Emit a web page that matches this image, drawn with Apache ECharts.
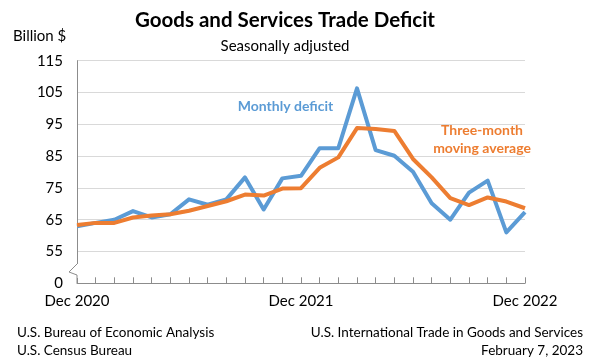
<!DOCTYPE html>
<html>
<head>
<meta charset="utf-8">
<script src="https://cdn.jsdelivr.net/npm/echarts@6/dist/echarts.min.js"></script>
<style>
html,body{margin:0;padding:0;background:#fff;}
#chart{width:601px;height:363px;}
</style>
</head>
<body>
<div id="chart"></div>
<script>
const months = ['Dec 2020','Jan 2021','Feb 2021','Mar 2021','Apr 2021','May 2021','Jun 2021','Jul 2021','Aug 2021','Sep 2021','Oct 2021','Nov 2021','Dec 2021','Jan 2022','Feb 2022','Mar 2022','Apr 2022','May 2022','Jun 2022','Jul 2022','Aug 2022','Sep 2022','Oct 2022','Nov 2022','Dec 2022'];
const monthlyDeficit = [62.9,64.0,65.0,67.7,65.7,66.7,71.4,69.7,71.4,78.3,68.2,78.0,78.8,87.5,87.5,106.3,86.9,85.1,80.1,70.2,65.0,73.5,77.3,61.0,67.4];
const movingAverage = [63.3,64.0,64.0,65.7,66.3,66.7,67.8,69.3,70.8,72.9,72.6,74.8,74.9,81.3,84.6,93.8,93.5,92.9,84.1,78.3,71.8,69.6,72.0,70.7,68.6];
const yTickValues = [45,55,65,75,85,95,105,115];
const yTickLabels = ['0','55','65','75','85','95','105','115'];
const FONT = 'Lato';

const chart = echarts.init(document.getElementById('chart'), null, {renderer:'canvas'});
const option = {
  animation:false,
  backgroundColor:'#fff',
  title:[
    {text:'Goods and Services Trade Deficit', left:280, top:5, textAlign:'center',
     textStyle:{fontFamily:FONT, fontWeight:'bold', fontSize:20.5, color:'#000'}},
    {text:'Seasonally adjusted', left:280, top:34, textAlign:'center',
     textStyle:{fontFamily:FONT, fontWeight:'normal', fontSize:15, color:'#000'}},
    {text:'Billion $', left:8, top:24,
     textStyle:{fontFamily:FONT, fontWeight:'normal', fontSize:15, color:'#000'}}
  ],
  grid:{left:77, right:76, top:60.7, bottom:79.7, containLabel:false},
  xAxis:{
    type:'category', data:months, boundaryGap:false,
    axisLine:{lineStyle:{color:'#8c8c8c', width:1}},
    axisTick:{show:true, inside:true, length:6, interval:0, lineStyle:{color:'#8c8c8c'}},
    axisLabel:{interval:11, margin:10, fontFamily:FONT, fontSize:15, color:'#000'},
    splitLine:{show:false}
  },
  yAxis:{
    type:'value', min:45, max:115, interval:10,
    axisLine:{show:true, lineStyle:{color:'#8c8c8c', width:1}},
    axisTick:{show:false},
    axisLabel:{margin:14, fontFamily:FONT, fontSize:15, color:'#000',
      formatter:function(v){const i=yTickValues.indexOf(v);return i>=0?yTickLabels[i]:'';}},
    splitLine:{show:true, lineStyle:{color:'#d9d9d9', width:1}}
  },
  series:[
    {name:'Monthly deficit', type:'line', data:monthlyDeficit, symbol:'none',
     lineStyle:{color:'#5B9BD5', width:4, join:'round'}, z:2},
    {name:'Three-month moving average', type:'line', data:movingAverage, symbol:'none',
     lineStyle:{color:'#ED7D31', width:4, join:'round'}, z:3}
  ],
  graphic:[
    {type:'rect', shape:{x:72, y:264, width:10, height:14}, style:{fill:'#fff'}, z:100},
    {type:'polyline', shape:{points:[[77,264],[69,272],[77,275],[77,283]]}, style:{stroke:'#8c8c8c', lineWidth:1, fill:null}, z:101},
    {type:'text', style:{text:'Monthly deficit', x:285.5, y:106, fill:'#5B9BD5', font:'bold 14px '+FONT, textAlign:'center', textVerticalAlign:'middle'}, z:50},
    {type:'text', style:{text:'Three-month', x:482, y:130, fill:'#ED7D31', font:'bold 14px '+FONT, textAlign:'center', textVerticalAlign:'middle'}, z:50},
    {type:'text', style:{text:'moving average', x:482, y:148, fill:'#ED7D31', font:'bold 14px '+FONT, textAlign:'center', textVerticalAlign:'middle'}, z:50},
    {type:'text', style:{text:'U.S. Bureau of Economic Analysis', x:17, y:333, fill:'#000', font:'13.5px '+FONT, textAlign:'left', textVerticalAlign:'middle'}},
    {type:'text', style:{text:'U.S. Census Bureau', x:17, y:351, fill:'#000', font:'13.5px '+FONT, textAlign:'left', textVerticalAlign:'middle'}},
    {type:'text', style:{text:'U.S. International Trade in Goods and Services', x:583, y:333, fill:'#000', font:'13.5px '+FONT, textAlign:'right', textVerticalAlign:'middle'}},
    {type:'text', style:{text:'February 7, 2023', x:583, y:351, fill:'#000', font:'13.5px '+FONT, textAlign:'right', textVerticalAlign:'middle'}}
  ]
};
chart.setOption(option);
</script>
</body>
</html>
